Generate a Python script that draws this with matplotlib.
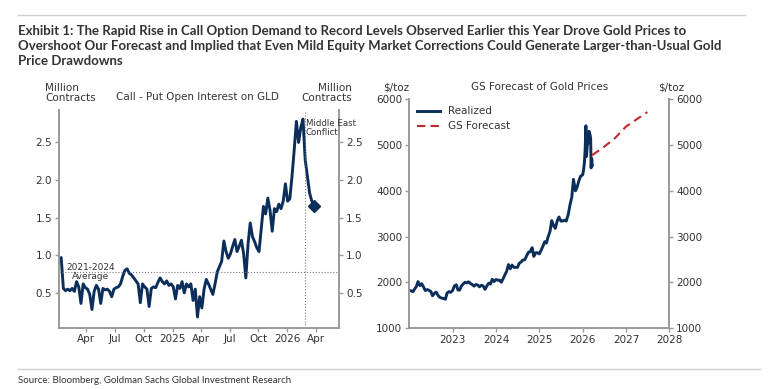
import numpy as np
import pandas as pd
import matplotlib
matplotlib.use('Agg')
import matplotlib.pyplot as plt

NAVY = '#0b2f5a'
RED = '#c0282d'
GRID = '#9a9a9a'
TXT = '#333333'

# ---- left panel: call - put open interest on GLD (million contracts), weekly ----
oi_vals_2024 = [0.94, 0.97, 0.56, 0.53, 0.55, 0.53, 0.56, 0.52, 0.65, 0.58, 0.36, 0.62, 0.57,
                0.55, 0.48, 0.28, 0.52, 0.60, 0.55, 0.36, 0.56, 0.54, 0.55, 0.52, 0.45, 0.55,
                0.57, 0.58, 0.62, 0.72, 0.80, 0.82, 0.76, 0.74, 0.70, 0.66, 0.62, 0.37, 0.62,
                0.58, 0.55, 0.32, 0.56, 0.58, 0.57, 0.64, 0.70, 0.65, 0.62, 0.66, 0.60, 0.62]
oi_vals_2025 = [0.58, 0.42, 0.60, 0.56, 0.65, 0.50, 0.62, 0.58, 0.62, 0.40, 0.55, 0.18, 0.45,
                0.30, 0.55, 0.68, 0.62, 0.55, 0.48, 0.62, 0.78, 0.85, 0.92, 1.19, 1.05, 0.96,
                1.02, 1.12, 1.21, 1.05, 1.12, 1.20, 1.02, 0.70, 1.15, 1.43, 1.25, 1.18, 1.10,
                1.05, 1.35, 1.65, 1.55, 1.76, 1.60, 1.32, 1.62, 1.58, 1.68, 1.62, 1.72, 1.95]
oi_vals_2026 = [1.72, 1.75, 2.05, 2.40, 2.78, 2.50, 2.70, 2.81, 2.27, 2.05, 1.83, 1.72, 1.66]
oi_dates = pd.date_range('2024-01-05', periods=117, freq='W-FRI')
oi_vals = oi_vals_2024 + oi_vals_2025 + oi_vals_2026
avg_2021_2024 = 0.78
conflict_date = pd.Timestamp('2026-02-27')

left_ticks = ['2024-04-01', '2024-07-01', '2024-10-01', '2025-01-01', '2025-04-01',
              '2025-07-01', '2025-10-01', '2026-01-01', '2026-04-01']
left_labels = ['Apr', 'Jul', 'Oct', '2025', 'Apr', 'Jul', 'Oct', '2026', 'Apr']

# ---- right panel: gold prices ($/toz), semi-monthly then finer in 2026 ----
gold_2022 = [1830, 1818, 1800, 1860, 1910, 2020, 1930, 1975, 1900, 1825, 1845, 1830,
             1805, 1710, 1765, 1790, 1715, 1675, 1660, 1650, 1635, 1770, 1800, 1785]
gold_2023 = [1825, 1920, 1950, 1835, 1835, 1920, 1970, 2005, 1990, 2015, 1975, 1955,
             1920, 1955, 1945, 1905, 1940, 1925, 1850, 1920, 1985, 1965, 2070, 2020]
gold_2024 = [2065, 2050, 2050, 2005, 2080, 2160, 2250, 2390, 2300, 2380, 2330, 2330,
             2330, 2420, 2450, 2490, 2500, 2580, 2660, 2670, 2760, 2570, 2650, 2650]
gold_2025 = [2625, 2700, 2800, 2890, 2860, 2990, 3120, 3350, 3240, 3180, 3350, 3430,
             3340, 3340, 3360, 3340, 3480, 3680, 3860, 4250, 4000, 4080, 4230, 4320]
gold_2026_dates = ['2026-01-01', '2026-01-08', '2026-01-15', '2026-01-22', '2026-01-28',
                   '2026-02-02', '2026-02-09', '2026-02-16', '2026-02-23', '2026-03-02',
                   '2026-03-09', '2026-03-13', '2026-03-18', '2026-03-23']
gold_2026 = [4350, 4450, 4600, 4900, 5420, 4750, 5000, 5050, 5300, 5250, 5150, 4500, 4700, 4560]
gold_dates = list(pd.date_range('2022-01-01', '2025-12-15', freq='SMS')) + list(pd.to_datetime(gold_2026_dates))
gold_vals = gold_2022 + gold_2023 + gold_2024 + gold_2025 + gold_2026

fc_dates = pd.to_datetime(['2026-03-23', '2026-06-30', '2026-09-30', '2026-12-31', '2027-03-31', '2027-06-30'])
fc_vals = [4780, 4960, 5150, 5400, 5560, 5720]

plt.rcParams.update({'font.family': 'DejaVu Sans', 'font.size': 7.5,
                     'xtick.color': GRID, 'ytick.color': GRID,
                     'xtick.labelcolor': TXT, 'ytick.labelcolor': TXT})

fig = plt.figure(figsize=(7.76, 3.89), dpi=100)

def style(ax):
    ax.spines['top'].set_visible(False)
    for s in ('left', 'right', 'bottom'):
        ax.spines[s].set_color(GRID)
        ax.spines[s].set_linewidth(1.2)
    ax.tick_params(direction='out', length=3, width=1, labelsize=7.5, pad=2)

# left panel
ax1 = fig.add_axes([0.076, 0.158, 0.361, 0.559])
ax1.plot(oi_dates, oi_vals, color=NAVY, lw=2.1, solid_joinstyle='round')
ax1.plot(oi_dates[-1], oi_vals[-1], marker='D', ms=6, color=NAVY)
ax1.axhline(avg_2021_2024, color='#777777', ls=':', lw=0.8)
ax1.axvline(conflict_date, color='#777777', ls=':', lw=0.8)
ax1.set_xlim(pd.Timestamp('2024-01-05'), pd.Timestamp('2026-06-15'))
ax1.set_ylim(0.04, 2.93)
ax1.set_yticks([0.5, 1.0, 1.5, 2.0, 2.5])
ax1.set_xticks(pd.to_datetime(left_ticks))
ax1.set_xticklabels(left_labels)
ax1.text(pd.Timestamp('2024-04-15'), avg_2021_2024, '2021-2024\nAverage', ha='center',
         va='center', fontsize=6.5, color=TXT, linespacing=0.95)
style(ax1)
ax1r = ax1.twinx()
ax1r.set_ylim(ax1.get_ylim())
ax1r.set_yticks([0.5, 1.0, 1.5, 2.0, 2.5])
style(ax1r)
ax1r.text(conflict_date + pd.Timedelta(days=2), 2.69, 'Middle East\nConflict', ha='left',
          va='center', fontsize=6.2, color=TXT, linespacing=0.92, zorder=5)
fig.text(0.058, 0.762, 'Million\nContracts', fontsize=7.5, color=TXT, ha='left', va='center', linespacing=1.0)
fig.text(0.453, 0.762, 'Million\nContracts', fontsize=7.5, color=TXT, ha='right', va='center', linespacing=1.0)
fig.text(0.255, 0.750, 'Call - Put Open Interest on GLD', fontsize=7.5, color=TXT, ha='center', va='center')

# right panel
ax2 = fig.add_axes([0.5275, 0.156, 0.335, 0.589])
ax2.plot(gold_dates, gold_vals, color=NAVY, lw=2.1, label='Realized')
ax2.plot(fc_dates, fc_vals, color=RED, lw=1.5, ls=(0, (4, 2.5)), label='GS Forecast')
ax2.set_xlim(pd.Timestamp('2022-01-01'), pd.Timestamp('2028-01-01'))
ax2.set_ylim(1000, 6000)
ax2.set_yticks([1000, 2000, 3000, 4000, 5000, 6000])
ax2.set_xticks(pd.to_datetime([f'{y}-01-01' for y in range(2023, 2029)]))
ax2.set_xticklabels([str(y) for y in range(2023, 2029)])
ax2.legend(loc='upper left', frameon=False, fontsize=7.5, handlelength=2.2,
           borderaxespad=0.3, labelspacing=0.45, labelcolor=TXT)
style(ax2)
ax2r = ax2.twinx()
ax2r.set_ylim(ax2.get_ylim())
ax2r.set_yticks([1000, 2000, 3000, 4000, 5000, 6000])
style(ax2r)
fig.text(0.494, 0.776, '$/toz', fontsize=7.5, color=TXT, ha='left', va='center')
fig.text(0.882, 0.776, '$/toz', fontsize=7.5, color=TXT, ha='right', va='center')
fig.text(0.695, 0.776, 'GS Forecast of Gold Prices', fontsize=7.5, color=TXT, ha='center', va='center')

# title, rules and source
fig.add_artist(plt.Line2D([0.023, 0.96], [0.962, 0.962], color='#d0d0d0', lw=1.0))
fig.text(0.023, 0.937,
         'Exhibit 1: The Rapid Rise in Call Option Demand to Record Levels Observed Earlier this Year Drove Gold Prices to\n'
         'Overshoot Our Forecast and Implied that Even Mild Equity Market Corrections Could Generate Larger-than-Usual Gold\n'
         'Price Drawdowns',
         fontsize=9.5, fontweight='bold', family=['Lato', 'DejaVu Sans'], color=TXT, ha='left', va='top', linespacing=1.3)
fig.add_artist(plt.Line2D([0.023, 0.98], [0.052, 0.052], color='#d0d0d0', lw=1.0))
fig.text(0.023, 0.021, 'Source: Bloomberg, Goldman Sachs Global Investment Research',
         fontsize=7, family=['Lato', 'DejaVu Sans'], color=TXT, ha='left', va='center')

fig.savefig('out.png', dpi=100)
